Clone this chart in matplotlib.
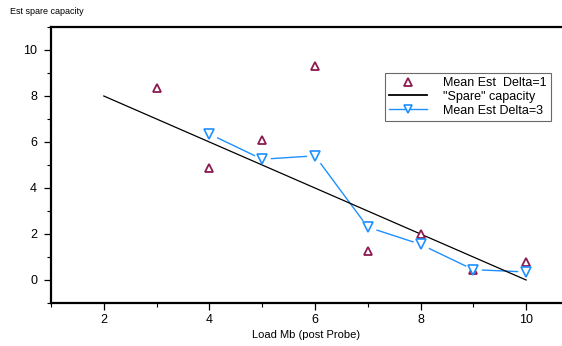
import matplotlib
matplotlib.use("Agg")
import matplotlib.pyplot as plt
from matplotlib.ticker import MultipleLocator

plt.rcParams["font.family"] = ["Liberation Sans", "DejaVu Sans"]

# dados
carga_d1 = [3, 4, 5, 6, 7, 8, 9, 10]
media_d1 = [8.35, 4.85, 6.1, 9.3, 1.25, 2.0, 0.45, 0.8]

carga_d3 = [4, 5, 6, 7, 8, 9, 10]
media_d3 = [6.35, 5.25, 5.4, 2.3, 1.55, 0.45, 0.35]

carga_spare = [2, 10]
spare = [8, 0]

cor_d1 = "#8b1a50"
cor_d3 = "#1e90ff"

fig = plt.figure(figsize=(5.62, 3.46), dpi=100)
ax = fig.add_axes([51 / 562, 43 / 346, 1 - 51 / 562, 276 / 346])

# linha azul com "buracos" em volta dos marcadores
ax.plot(carga_d3, media_d3, color=cor_d3, lw=1.0, zorder=1)
ax.plot(carga_d3, media_d3, ls="none", marker="o", ms=11,
        mfc="white", mec="white", zorder=2)

ax.plot(carga_spare, spare, color="black", lw=0.9, zorder=3)

ax.plot(carga_d1, media_d1, ls="none", marker="^", ms=5.5, mfc="white",
        mec=cor_d1, mew=1.3, zorder=4)
ax.plot(carga_d3, media_d3, ls="none", marker="v", ms=6.5, mfc="white",
        mec=cor_d3, mew=1.2, zorder=4)

# entradas da legenda
h1, = ax.plot([], [], ls="none", marker="^", ms=5.5, mfc="white",
              mec=cor_d1, mew=1.3)
h2, = ax.plot([], [], color="black", lw=1.3)
h3, = ax.plot([], [], color=cor_d3, lw=1.0, marker="v", ms=6,
              mfc="white", mec=cor_d3, mew=1.2)
leg = ax.legend([h1, h2, h3],
                ["Mean Est  Delta=1", '"Spare" capacity', "Mean Est Delta=3"],
                loc="upper left", bbox_to_anchor=(0.653, 0.835),
                fontsize=9, frameon=True, fancybox=False, borderpad=0.35,
                labelspacing=0.15, handlelength=3.0, handletextpad=1.3,
                borderaxespad=0)
leg.get_frame().set_edgecolor("#444444")
leg.get_frame().set_linewidth(0.8)

ax.set_xlim(1, 10.68)
ax.set_ylim(-1, 11)
ax.xaxis.set_minor_locator(MultipleLocator(1))
ax.yaxis.set_minor_locator(MultipleLocator(1))
ax.set_xticks([2, 4, 6, 8, 10])
ax.set_yticks([0, 2, 4, 6, 8, 10])

ax.spines["right"].set_visible(False)
for lado in ["left", "bottom", "top"]:
    ax.spines[lado].set_linewidth(1.6)

ax.tick_params(which="major", direction="out", length=5, width=0.9,
               labelsize=9)
ax.tick_params(axis="x", which="major", pad=3)
ax.tick_params(axis="y", which="major", pad=5)
ax.tick_params(which="minor", direction="out", length=3, width=0.8)
ax.tick_params(top=False, which="both")

ax.set_xlabel("Load Mb (post Probe)", fontsize=8, labelpad=3)
fig.text(10 / 562, 1 - 11 / 346, "Est spare capacity", fontsize=6.5,
         va="center", ha="left")

fig.savefig("out.png", dpi=100)
